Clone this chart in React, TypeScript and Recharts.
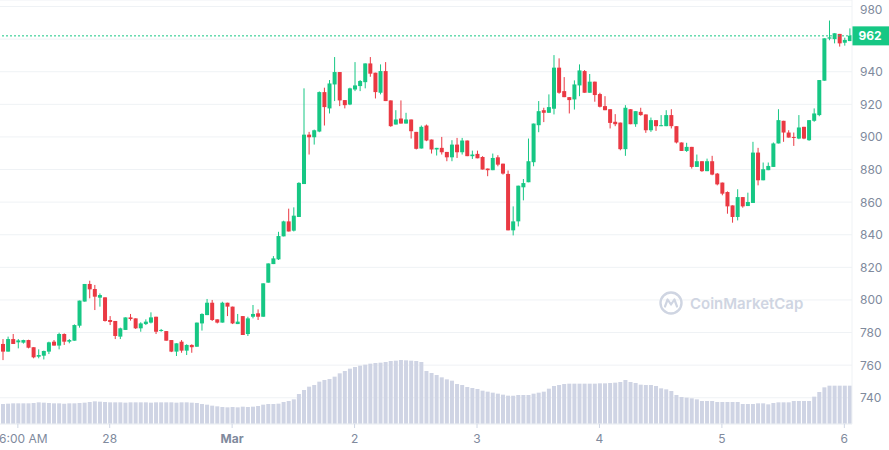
import React from 'react';
import { ComposedChart, Bar, XAxis, YAxis, CartesianGrid, ReferenceLine } from 'recharts';

// hourly candles, Feb 27 03:00 -> Mar 6 01:00
const OPEN = [
  773.0, 768.3, 776.0, 774.0, 773.8, 775.4, 771.0, 765.2, 765.8, 768.3,
  774.4, 772.0, 779.1, 774.4, 775.0, 784.2, 799.0, 809.8, 806.7, 801.4,
  801.6, 787.7, 787.1, 777.5, 781.6, 789.3, 788.7, 782.6, 785.2, 786.1,
  789.7, 781.2, 780.9, 775.4, 768.3, 774.4, 768.9, 772.4, 771.3, 785.6,
  790.7, 798.3, 788.1, 786.1, 798.3, 795.9, 785.2, 790.1, 779.1, 789.7,
  791.8, 789.7, 810.6, 822.0, 824.9, 839.0, 848.2, 842.5, 850.9, 871.1,
  901.4, 899.8, 903.3, 927.5, 917.5, 932.2, 939.8, 922.6, 919.9, 929.1,
  931.2, 933.6, 945.1, 939.4, 927.1, 940.4, 922.4, 907.6, 911.3, 908.2,
  910.7, 903.1, 892.9, 907.0, 898.4, 892.3, 893.3, 890.8, 887.5, 895.3,
  890.6, 897.8, 888.2, 889.6, 887.7, 880.6, 879.6, 887.5, 883.6, 877.3,
  842.7, 848.2, 869.1, 872.2, 884.5, 907.2, 916.4, 914.8, 917.3, 942.5,
  928.1, 924.4, 923.0, 931.6, 940.4, 927.1, 933.9, 926.3, 918.9, 917.0,
  909.3, 908.8, 892.5, 917.0, 907.8, 915.4, 913.8, 904.1, 910.3, 906.8,
  906.6, 913.4, 906.6, 896.6, 891.4, 893.9, 881.6, 885.1, 879.0, 885.1,
  877.5, 872.0, 866.2, 858.0, 850.9, 863.1, 857.6, 859.5, 890.4, 873.4,
  879.6, 881.6, 896.0, 909.9, 902.7, 900.0, 899.0, 906.2, 898.0, 909.9,
  913.4, 934.5, 960.3, 960.0, 963.2, 957.8, 958.8,
];
const HIGH = [
  776.0, 777.5, 779.1, 776.0, 775.6, 775.6, 771.0, 769.7, 768.9, 774.4,
  775.4, 779.9, 779.5, 776.0, 785.0, 799.6, 809.8, 811.8, 809.2, 804.0,
  801.6, 790.1, 787.1, 783.0, 789.3, 791.4, 788.7, 786.3, 788.1, 792.4,
  789.7, 782.2, 780.9, 775.4, 773.4, 775.4, 772.8, 772.8, 786.1, 791.8,
  800.6, 800.0, 788.1, 798.9, 798.3, 795.9, 791.4, 790.1, 789.7, 796.9,
  794.2, 810.2, 822.4, 826.9, 841.8, 848.6, 856.0, 856.8, 872.2, 929.8,
  903.1, 904.5, 927.9, 930.2, 934.9, 949.0, 939.8, 922.6, 930.2, 945.9,
  934.9, 945.1, 949.0, 939.4, 944.5, 945.9, 922.4, 916.4, 922.4, 914.8,
  910.7, 903.1, 907.0, 907.6, 898.4, 893.3, 900.0, 890.8, 898.0, 899.4,
  899.4, 897.8, 891.6, 891.6, 888.2, 880.6, 889.8, 888.8, 883.6, 879.4,
  857.4, 870.1, 874.2, 899.0, 908.2, 922.0, 917.9, 926.1, 950.2, 948.2,
  936.7, 924.4, 934.7, 944.5, 941.0, 938.6, 933.9, 927.1, 925.0, 917.0,
  914.0, 908.8, 919.5, 917.0, 915.8, 917.9, 913.8, 911.9, 910.3, 913.4,
  916.4, 917.0, 906.6, 896.6, 896.4, 893.9, 889.2, 885.1, 886.7, 888.4,
  877.9, 872.0, 866.6, 858.0, 867.9, 863.1, 865.8, 897.0, 893.3, 884.3,
  884.3, 896.6, 917.0, 909.9, 904.1, 902.7, 913.4, 906.2, 910.3, 917.5,
  934.9, 960.5, 971.4, 963.6, 963.2, 960.9, 966.6,
];
const LOW = [
  763.1, 768.3, 773.0, 770.3, 773.2, 770.3, 764.2, 764.2, 763.5, 766.8,
  772.0, 769.7, 772.4, 773.4, 775.0, 783.0, 799.0, 801.0, 793.8, 795.9,
  786.7, 784.6, 776.0, 776.0, 781.6, 787.3, 782.2, 780.5, 784.6, 785.6,
  779.1, 780.5, 775.0, 768.0, 765.6, 767.6, 766.2, 767.6, 771.3, 781.2,
  790.7, 787.1, 785.6, 786.1, 790.1, 785.2, 785.2, 778.5, 777.9, 788.7,
  787.7, 789.7, 810.6, 822.0, 824.5, 839.0, 842.0, 842.0, 850.9, 871.1,
  889.2, 895.3, 902.9, 907.0, 914.4, 922.0, 918.9, 917.5, 919.5, 928.1,
  928.1, 929.8, 936.9, 923.6, 926.1, 922.0, 906.2, 907.6, 908.2, 908.2,
  899.0, 892.3, 892.9, 897.4, 889.8, 888.6, 889.2, 885.1, 885.1, 887.1,
  889.2, 888.2, 886.5, 886.9, 880.0, 875.9, 879.6, 882.0, 876.9, 842.7,
  839.6, 845.1, 861.1, 872.2, 882.0, 902.9, 909.1, 914.8, 913.8, 926.5,
  924.4, 914.4, 916.8, 925.0, 927.1, 927.1, 921.6, 918.1, 916.4, 905.2,
  906.6, 891.8, 888.4, 907.8, 906.2, 913.0, 902.5, 903.1, 903.7, 906.6,
  906.6, 905.2, 896.0, 891.4, 890.8, 880.6, 881.6, 878.6, 879.0, 876.5,
  870.3, 864.2, 852.9, 847.4, 848.8, 856.6, 857.6, 859.5, 870.3, 873.4,
  879.6, 881.6, 896.0, 897.0, 899.6, 894.5, 898.6, 898.6, 897.6, 909.3,
  912.7, 934.5, 959.3, 957.4, 955.4, 956.0, 958.8,
];
const CLOSE = [
  768.3, 776.0, 773.0, 775.2, 775.4, 770.7, 764.8, 766.2, 768.7, 774.0,
  772.0, 779.1, 774.4, 775.4, 784.6, 799.6, 809.8, 806.5, 802.0, 803.0,
  787.1, 786.5, 777.9, 782.6, 789.3, 788.3, 782.6, 785.6, 786.7, 789.3,
  780.5, 781.6, 775.0, 768.3, 773.4, 768.9, 772.4, 771.0, 786.1, 791.4,
  798.3, 787.7, 786.1, 798.3, 795.9, 785.6, 786.7, 778.5, 788.7, 791.4,
  789.7, 810.2, 822.4, 825.5, 839.2, 848.2, 842.0, 851.7, 871.8, 901.4,
  899.8, 904.1, 927.5, 918.3, 932.8, 939.8, 922.4, 919.5, 929.8, 931.6,
  934.3, 945.1, 938.8, 927.5, 940.4, 922.0, 906.6, 910.7, 908.2, 910.7,
  903.5, 892.7, 906.2, 897.8, 892.3, 893.3, 890.6, 887.5, 895.3, 890.6,
  897.8, 888.2, 889.2, 886.9, 880.0, 879.6, 887.1, 883.0, 877.5, 842.7,
  848.2, 870.1, 871.7, 885.1, 908.2, 915.8, 914.8, 918.3, 942.5, 927.1,
  924.4, 922.6, 932.2, 940.8, 927.1, 933.9, 925.7, 918.5, 916.4, 908.6,
  907.8, 892.5, 917.9, 907.8, 915.8, 913.4, 904.1, 910.3, 906.6, 907.2,
  913.4, 906.6, 896.6, 891.4, 893.9, 881.6, 885.1, 879.0, 885.1, 876.9,
  870.9, 865.2, 857.4, 850.9, 863.1, 857.4, 860.1, 890.4, 873.4, 880.2,
  882.2, 896.0, 910.3, 902.7, 899.6, 899.6, 905.8, 899.0, 910.3, 914.4,
  934.9, 960.5, 961.1, 963.6, 957.4, 959.5, 962.1,
];
// volume, in M
const VOLUME = [
  60, 61, 62, 62, 62, 62, 63, 65, 64, 63,
  62, 62, 61, 62, 62, 63, 64, 66, 68, 67,
  66, 65, 65, 65, 64, 65, 65, 65, 65, 64,
  65, 65, 65, 65, 64, 65, 65, 64, 63, 60,
  58, 55, 53, 51, 50, 51, 50, 52, 51, 52,
  54, 58, 60, 60, 61, 66, 69, 74, 90, 102,
  112, 117, 127, 132, 135, 142, 152, 159, 166, 171,
  175, 178, 181, 183, 184, 186, 189, 190, 192, 191,
  190, 189, 186, 159, 153, 147, 140, 134, 130, 120,
  117, 111, 108, 105, 100, 97, 94, 91, 88, 85,
  85, 87, 87, 87, 91, 94, 97, 106, 114, 117,
  120, 121, 121, 121, 121, 121, 121, 122, 122, 123,
  124, 126, 132, 126, 123, 118, 117, 117, 114, 107,
  104, 99, 87, 81, 79, 77, 74, 69, 69, 69,
  66, 66, 66, 66, 66, 60, 60, 60, 62, 62,
  59, 63, 65, 65, 65, 69, 69, 69, 69, 82,
  96, 110, 115, 115, 115, 115, 115,
];

const TICK_INDEX = [3, 21, 45, 69, 93, 117, 141, 165];
const TICK_LABELS = ['6:00 AM', '28', 'Mar', '2', '3', '4', '5', '6'];
const PRICE_TICKS = [740, 760, 780, 800, 820, 840, 860, 880, 900, 920, 940, 960, 980];
const LAST_PRICE = 962;

const GREEN = '#16c784';
const RED = '#ea3943';
const GRID = '#eff2f5';
const LABEL = '#808a9d';

const data = OPEN.map((open, i) => ({
  i,
  open,
  high: HIGH[i],
  low: LOW[i],
  close: CLOSE[i],
  volume: VOLUME[i],
}));

function Candle(props: any) {
  const { x, y, width, height, payload } = props;
  if (!payload || height == null) return null;
  const { open, close, high, low } = payload;
  const range = high - low;
  const k = range > 0 ? height / range : 0;
  const cx = x + width / 2;
  const yOpen = y + (high - open) * k;
  const yClose = y + (high - close) * k;
  const top = Math.min(yOpen, yClose);
  const bodyH = Math.max(1, Math.abs(yOpen - yClose));
  const color = close >= open ? GREEN : RED;
  return (
    <g>
      <line x1={cx} x2={cx} y1={y} y2={y + height} stroke={color} strokeWidth={1} />
      <rect x={x} y={top} width={width} height={bodyH} fill={color} />
    </g>
  );
}

function TimeTick(props: any) {
  const { x, y, payload } = props;
  const idx = TICK_INDEX.indexOf(payload.value);
  if (idx < 0) return <g />;
  const label = TICK_LABELS[idx];
  // first label is pinned to the left edge like the original
  const pinned = idx === 0;
  return (
    <g>
      <line x1={x} x2={x} y1={y} y2={y + 4} stroke="#cfd6e4" />
      <text
        x={pinned ? -1 : x}
        y={y + 14}
        textAnchor={pinned ? 'start' : 'middle'}
        dominantBaseline="central"
        fill={LABEL}
        fontSize={12}
        fontWeight={label === 'Mar' ? 700 : 400}
      >
        {label}
      </text>
    </g>
  );
}

function PriceTick(props: any) {
  const { x, y, payload } = props;
  // the 960 label sits under the last-price tag
  if (payload.value === 960) return <g />;
  return (
    <text x={x} y={y} textAnchor="start" dominantBaseline="central" fill={LABEL} fontSize={12}>
      {payload.value}
    </text>
  );
}

function PriceTag(props: any) {
  const { viewBox } = props;
  if (!viewBox) return null;
  const left = viewBox.x + viewBox.width;
  return (
    <g>
      <rect x={left} y={viewBox.y - 9.5} width={37} height={19} fill={GREEN} />
      <text
        x={left + 18}
        y={viewBox.y}
        textAnchor="middle"
        dominantBaseline="central"
        fill="#fff"
        fontSize={12}
        fontWeight={700}
      >
        {LAST_PRICE}
      </text>
    </g>
  );
}

function Watermark() {
  const c = '#cfd5e2';
  return (
    <div
      style={{
        position: 'absolute',
        left: 659,
        top: 291,
        display: 'flex',
        alignItems: 'center',
        gap: 7,
        color: c,
        fontSize: 15,
        fontWeight: 600,
        pointerEvents: 'none',
      }}
    >
      <svg width={24} height={24} viewBox="0 0 24 24">
        <circle cx={12} cy={12} r={10.5} fill="none" stroke={c} strokeWidth={2.4} />
        <path d="M6 15.5 L8.6 8.5 L12 13.5 L15.4 8.5 L18 15.5" fill="none" stroke={c} strokeWidth={2.2} strokeLinejoin="round" strokeLinecap="round" />
      </svg>
      <span>CoinMarketCap</span>
    </div>
  );
}

export default function App() {
  return (
    <div
      style={{
        position: 'absolute',
        left: 0,
        top: 0,
        width: 889,
        height: 450,
        background: '#fff',
        fontFamily: 'Inter, "Noto Sans", sans-serif',
        overflow: 'hidden',
      }}
    >
      <ComposedChart width={889} height={450} data={data} margin={{ top: 0, right: 0, bottom: 0, left: 0 }}>
        <CartesianGrid xAxisId="main" yAxisId="price" vertical={false} stroke={GRID} />
        <XAxis
          xAxisId="main"
          dataKey="i"
          type="category"
          height={26}
          interval={0}
          tickSize={0}
          tickMargin={0}
          tickLine={false}
          axisLine={{ stroke: GRID }}
          tick={TimeTick}
        />
        <XAxis xAxisId="vol" dataKey="i" type="category" hide />
        <YAxis
          yAxisId="price"
          orientation="right"
          width={37}
          domain={[723.9, 984]}
          allowDataOverflow
          ticks={PRICE_TICKS}
          tickSize={0}
          tickMargin={8}
          tickLine={false}
          axisLine={{ stroke: GRID }}
          tick={PriceTick}
        />
        <YAxis yAxisId="vol" domain={[0, 1272]} hide />
        <Bar
          xAxisId="vol"
          yAxisId="vol"
          dataKey="volume"
          fill="#cfd4e4"
          barSize={4}
          isAnimationActive={false}
        />
        <ReferenceLine
          xAxisId="main"
          yAxisId="price"
          y={LAST_PRICE}
          stroke={GREEN}
          strokeDasharray="2 2"
          label={PriceTag}
        />
        <Bar
          xAxisId="main"
          yAxisId="price"
          dataKey={(d: any) => [d.low, d.high]}
          barSize={4}
          shape={Candle}
          isAnimationActive={false}
        />
      </ComposedChart>
      <Watermark />
    </div>
  );
}
